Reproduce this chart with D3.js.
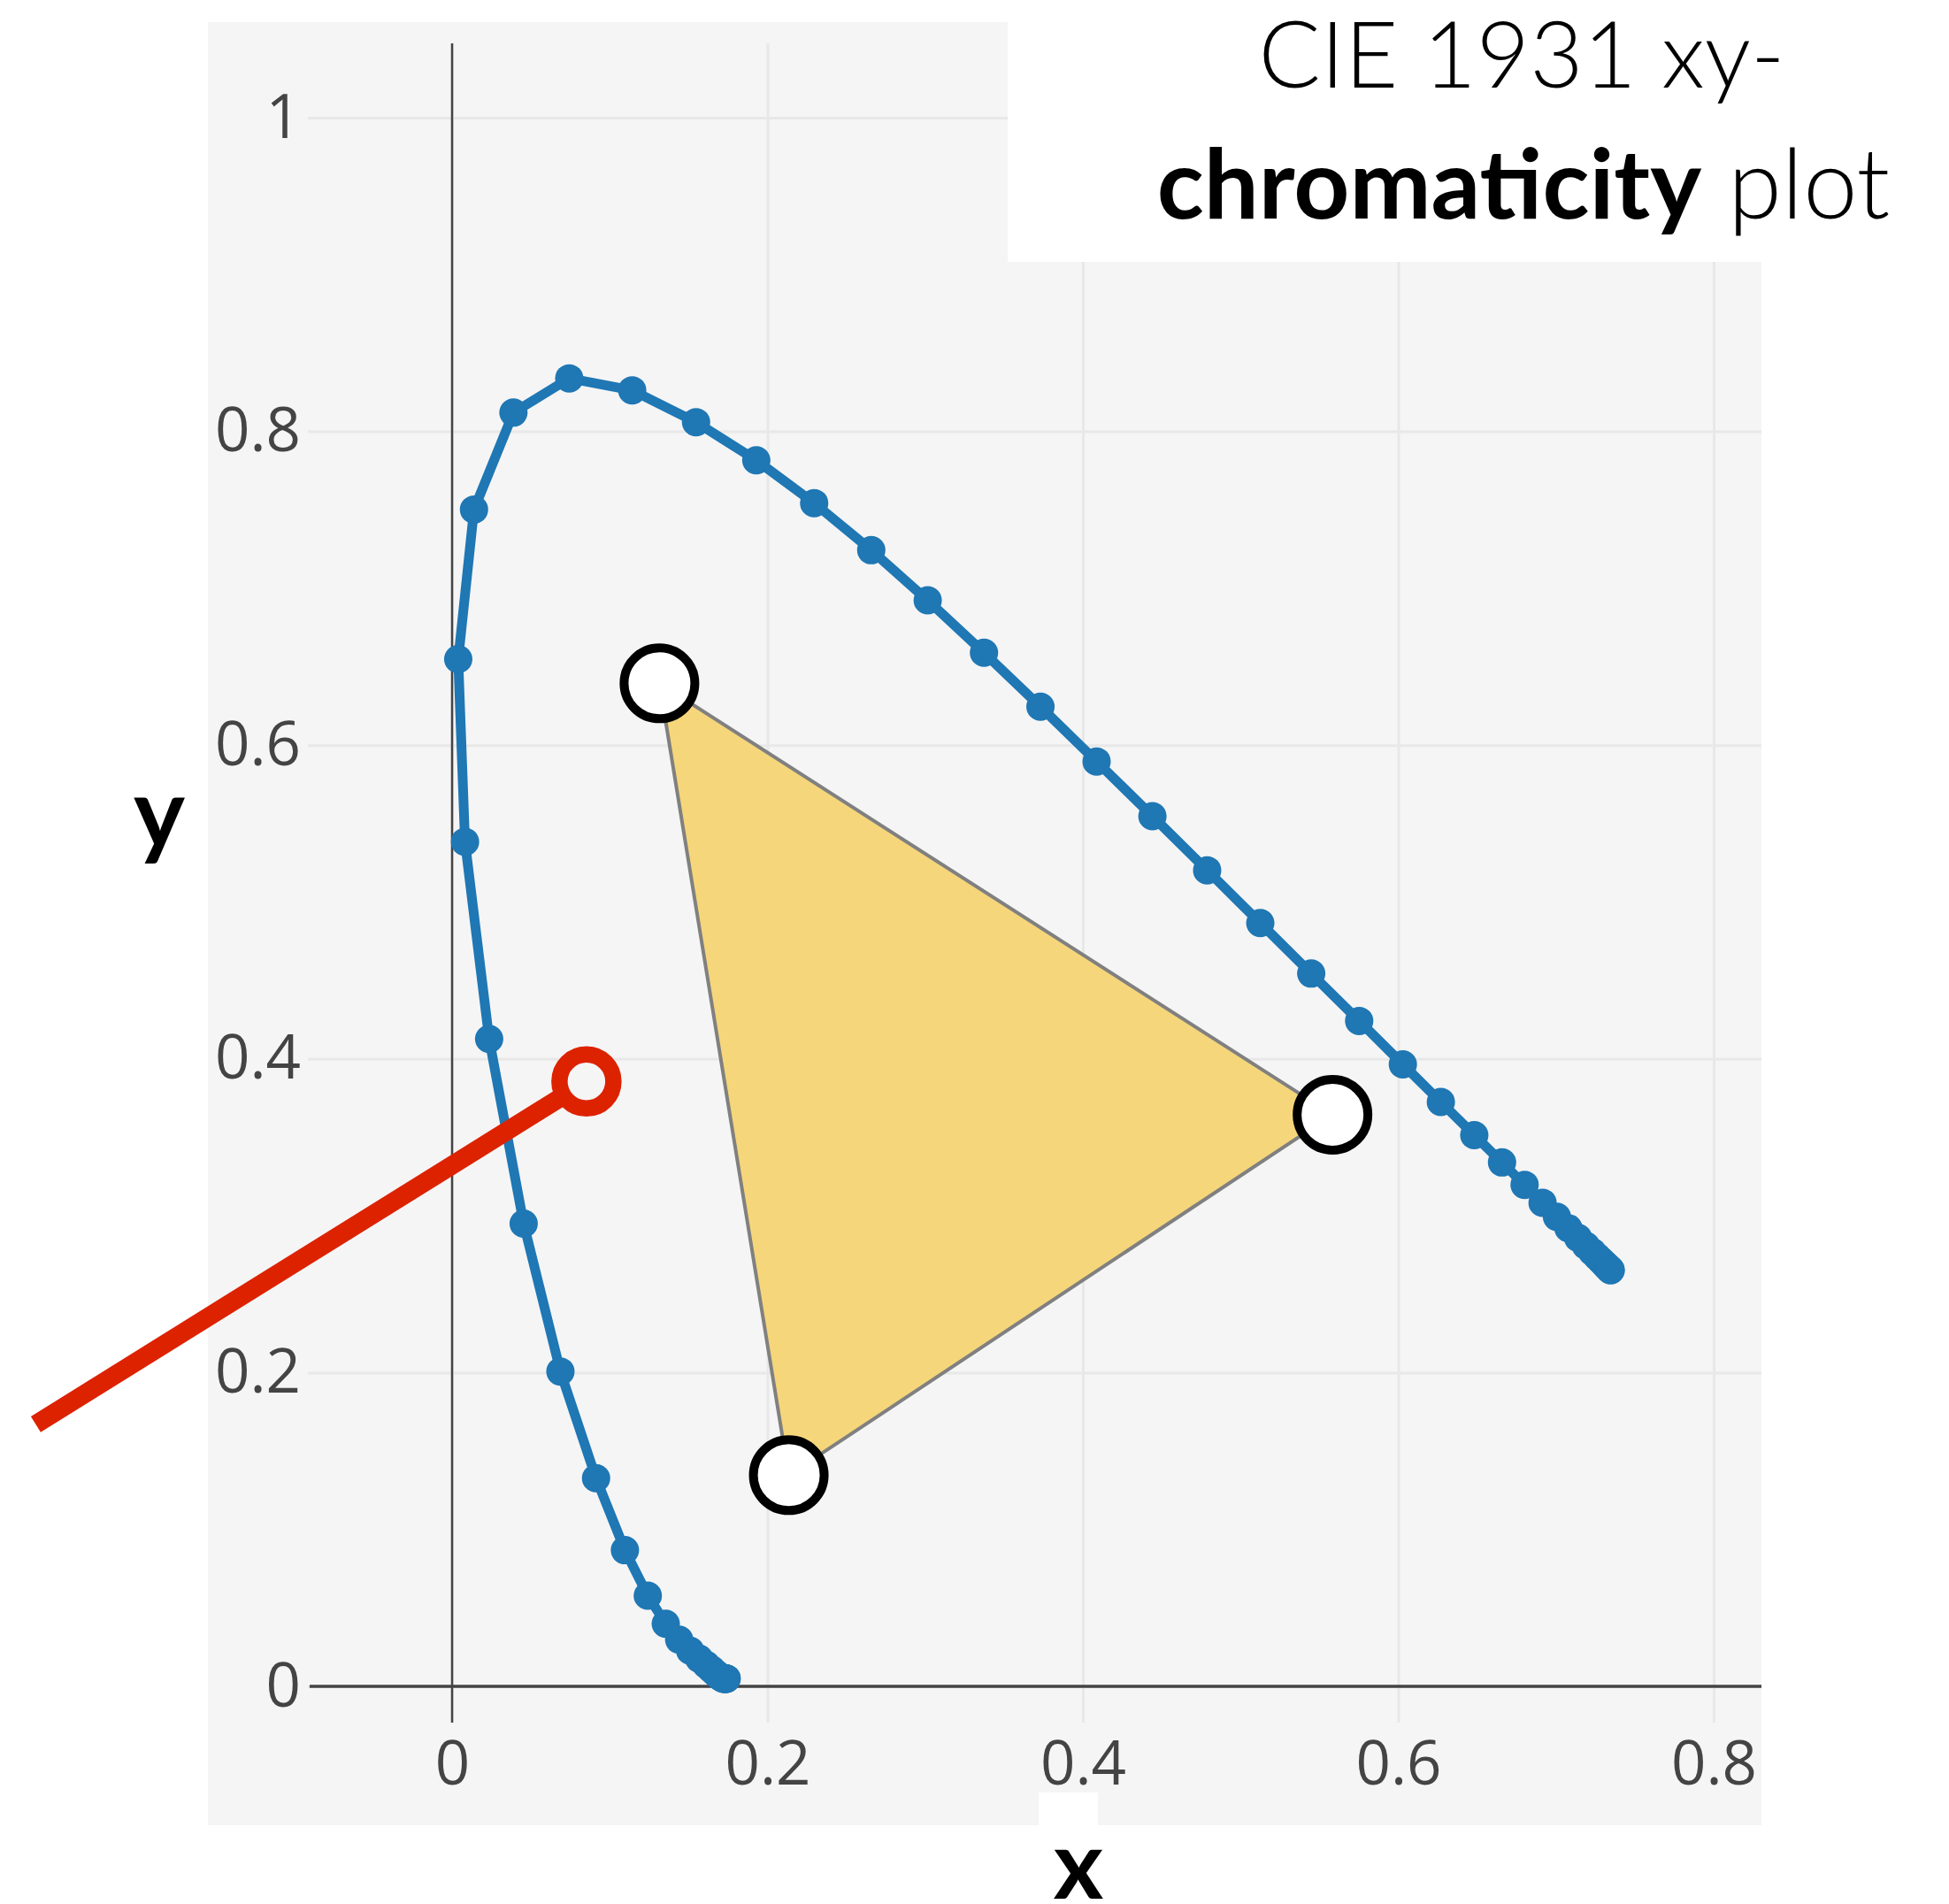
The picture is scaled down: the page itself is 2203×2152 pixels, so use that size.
<!DOCTYPE html>
<html>
<head>
<meta charset="utf-8">
<script src="https://cdn.jsdelivr.net/npm/d3@7"></script>
<style>
  body { margin: 0; background: #fff; }
  svg { display: block; }
</style>
</head>
<body>
<div id="chart"></div>
<script>
// spectral locus, 380 to 700 nm in 5 nm steps
var locusX = [0.1741, 0.1740, 0.1738, 0.1736, 0.1733, 0.1730, 0.1726, 0.1721, 0.1714, 0.1703,
              0.1689, 0.1669, 0.1644, 0.1611, 0.1566, 0.1510, 0.1440, 0.1355, 0.1241, 0.1096,
              0.0913, 0.0687, 0.0454, 0.0235, 0.0082, 0.0039, 0.0139, 0.0389, 0.0743, 0.1142,
              0.1547, 0.1929, 0.2296, 0.2658, 0.3016, 0.3373, 0.3731, 0.4087, 0.4441, 0.4788,
              0.5125, 0.5448, 0.5752, 0.6029, 0.6270, 0.6482, 0.6658, 0.6801, 0.6915, 0.7006,
              0.7079, 0.7140, 0.7190, 0.7230, 0.7260, 0.7283, 0.7300, 0.7311, 0.7320, 0.7327,
              0.7334, 0.7340, 0.7344, 0.7346, 0.7347];
var locusY = [0.0050, 0.0050, 0.0049, 0.0049, 0.0048, 0.0048, 0.0048, 0.0048, 0.0051, 0.0058,
              0.0069, 0.0086, 0.0109, 0.0138, 0.0177, 0.0227, 0.0297, 0.0399, 0.0578, 0.0868,
              0.1327, 0.2007, 0.2950, 0.4127, 0.5384, 0.6548, 0.7502, 0.8120, 0.8338, 0.8262,
              0.8059, 0.7816, 0.7543, 0.7243, 0.6923, 0.6589, 0.6245, 0.5896, 0.5547, 0.5202,
              0.4866, 0.4544, 0.4242, 0.3965, 0.3725, 0.3514, 0.3340, 0.3197, 0.3083, 0.2993,
              0.2920, 0.2859, 0.2809, 0.2770, 0.2740, 0.2717, 0.2700, 0.2689, 0.2680, 0.2673,
              0.2666, 0.2660, 0.2656, 0.2654, 0.2653];

// gamut triangle corners
var primX = [0.1315, 0.5583, 0.2135];
var primY = [0.6394, 0.3644, 0.1346];

// red pointer: tail end, then the ring
var pointerX = [-0.264, 0.0852];
var pointerY = [0.167, 0.3856];

var xTicks = [0, 0.2, 0.4, 0.6, 0.8];
var xTickLabels = ["0", "0.2", "0.4", "0.6", "0.8"];
var yTicks = [0, 0.2, 0.4, 0.6, 0.8, 1];
var yTickLabels = ["0", "0.2", "0.4", "0.6", "0.8", "1"];

var titleLine1 = "CIE 1931 xy-";
var titleBold = "chromaticity";
var titleRest = " plot";

var W = 2203, H = 2152;
var bg = {left: 235, top: 25, right: 1991, bottom: 2063};

var x = d3.scaleLinear().domain([0, 0.8]).range([511, 1937]);
var y = d3.scaleLinear().domain([0, 1]).range([1906, 133]);

var svg = d3.select("#chart").append("svg")
    .attr("width", W)
    .attr("height", H)
    .style("background", "#fff");

svg.append("rect")
    .attr("x", bg.left).attr("y", bg.top)
    .attr("width", bg.right - bg.left).attr("height", bg.bottom - bg.top)
    .attr("fill", "#f5f5f5");

// grid + tick labels from d3 axes
var tickFont = "'Open Sans', 'DejaVu Sans', sans-serif";

var gx = svg.append("g")
    .attr("transform", "translate(0,1947)")
    .call(d3.axisBottom(x)
        .tickValues(xTicks)
        .tickFormat(function(d, i) { return xTickLabels[i]; })
        .tickSize(-(1947 - 49))
        .tickPadding(21));

var gy = svg.append("g")
    .attr("transform", "translate(348,0)")
    .call(d3.axisLeft(y)
        .tickValues(yTicks)
        .tickFormat(function(d, i) { return yTickLabels[i]; })
        .tickSize(-(bg.right - 348))
        .tickPadding(8));

[gx, gy].forEach(function(g) {
    g.attr("font-family", null);
    g.select(".domain").remove();
    g.selectAll(".tick line").attr("stroke", "#e8e8e8").attr("stroke-width", 3);
    g.selectAll(".tick text")
        .attr("fill", "#444")
        .style("font-family", tickFont)
        .style("font-size", "69px");
});

// zero lines
svg.append("line")
    .attr("x1", x(0)).attr("x2", x(0))
    .attr("y1", 49).attr("y2", 1947)
    .attr("stroke", "#444").attr("stroke-width", 2.5);

svg.append("line")
    .attr("x1", 350).attr("x2", bg.right)
    .attr("y1", y(0)).attr("y2", y(0))
    .attr("stroke", "#444").attr("stroke-width", 3.5);

// gamut triangle
var prim = primX.map(function(v, i) { return [x(v), y(primY[i])]; });

svg.append("polygon")
    .attr("points", prim.map(function(p) { return p.join(","); }).join(" "))
    .attr("fill", "#f6d67a")
    .attr("stroke", "#808080")
    .attr("stroke-width", 4)
    .attr("stroke-linejoin", "round");

// spectral locus
var locus = locusX.map(function(v, i) { return [v, locusY[i]]; });

svg.append("path")
    .datum(locus)
    .attr("fill", "none")
    .attr("stroke", "#1f77b4")
    .attr("stroke-width", 11)
    .attr("stroke-linejoin", "round")
    .attr("d", d3.line()
        .x(function(d) { return x(d[0]); })
        .y(function(d) { return y(d[1]); }));

svg.append("g").selectAll("circle")
    .data(locus).enter()
    .append("circle")
        .attr("cx", function(d) { return x(d[0]); })
        .attr("cy", function(d) { return y(d[1]); })
        .attr("r", 16)
        .attr("fill", "#1f77b4");

// corner handles
svg.append("g").selectAll("circle")
    .data(prim).enter()
    .append("circle")
        .attr("cx", function(d) { return d[0]; })
        .attr("cy", function(d) { return d[1]; })
        .attr("r", 40)
        .attr("fill", "#fff")
        .attr("stroke", "#000")
        .attr("stroke-width", 10);

// red pointer
svg.append("line")
    .attr("x1", x(pointerX[0])).attr("y1", y(pointerY[0]))
    .attr("x2", x(pointerX[1])).attr("y2", y(pointerY[1]))
    .attr("stroke", "#dd2200")
    .attr("stroke-width", 21);

svg.append("circle")
    .attr("cx", x(pointerX[1])).attr("cy", y(pointerY[1]))
    .attr("r", 30.5)
    .attr("fill", "#f5f5f5")
    .attr("stroke", "#dd2200")
    .attr("stroke-width", 18.5);

// title box
svg.append("rect")
    .attr("x", 1139).attr("y", 0)
    .attr("width", W - 1139).attr("height", 296)
    .attr("fill", "#fff");

var titleFont = "Lato, 'Open Sans', sans-serif";

svg.append("text")
    .attr("x", 1720).attr("y", 99)
    .attr("text-anchor", "middle")
    .style("font-family", titleFont)
    .style("font-weight", 300)
    .style("font-size", "104px")
    .attr("fill", "#000")
    .text(titleLine1);

var t2 = svg.append("text")
    .attr("x", 1722).attr("y", 247)
    .attr("text-anchor", "middle")
    .style("font-family", titleFont)
    .style("font-size", "110px")
    .attr("fill", "#000");
t2.append("tspan").style("font-weight", 700).text(titleBold);
t2.append("tspan").style("font-weight", 300).text(titleRest);

// little white patch under the x tick labels
svg.append("rect")
    .attr("x", 1174).attr("y", 2026)
    .attr("width", 67).attr("height", bg.bottom - 2026)
    .attr("fill", "#fff");

// axis titles
svg.append("text")
    .attr("x", 1219).attr("y", 2146)
    .attr("text-anchor", "middle")
    .style("font-family", titleFont)
    .style("font-weight", 700)
    .style("font-size", "108px")
    .attr("fill", "#000")
    .text("x");

svg.append("text")
    .attr("x", 180).attr("y", 958)
    .attr("text-anchor", "middle")
    .style("font-family", titleFont)
    .style("font-weight", 700)
    .style("font-size", "110px")
    .attr("fill", "#000")
    .text("y");
</script>
</body>
</html>
